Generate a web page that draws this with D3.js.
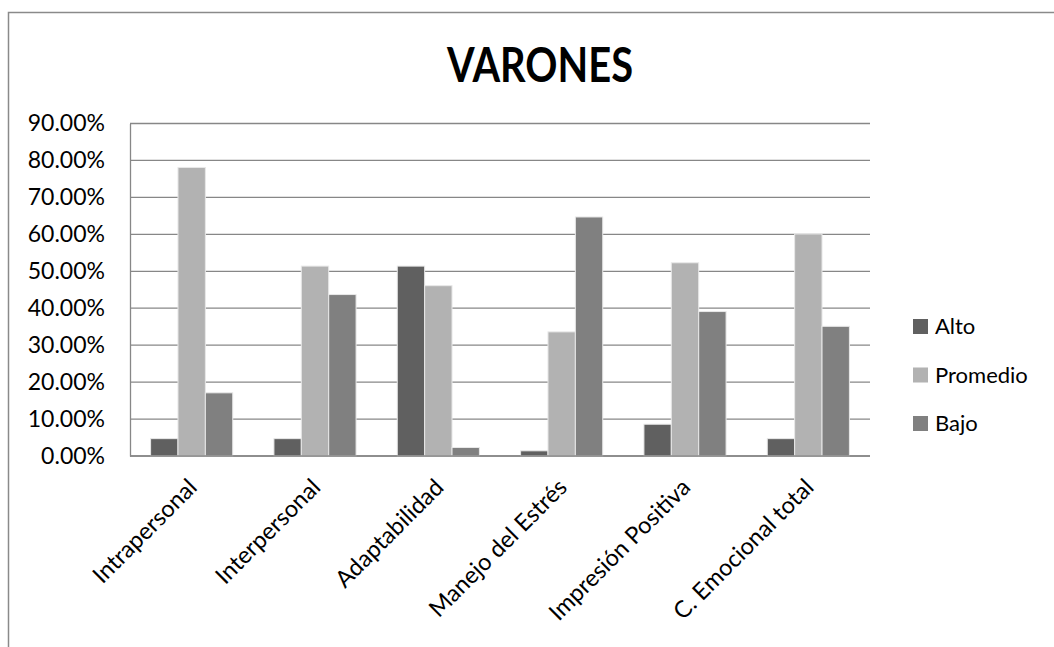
<!DOCTYPE html>
<html>
<head>
<meta charset="utf-8">
<script src="https://cdn.jsdelivr.net/npm/d3@7"></script>
<style>
  body { margin: 0; background: #fff; }
  text { font-family: Lato, "Open Sans", sans-serif; fill: #000; }
</style>
</head>
<body>
<div class="chart-container"></div>
<script>
const width = 1054, height = 647;

// data
var categories = ["Intrapersonal", "Interpersonal", "Adaptabilidad", "Manejo del Estrés", "Impresión Positiva", "C. Emocional total"];
var series = ["Alto", "Promedio", "Bajo"];
var alto = [4.7, 4.7, 51.4, 1.4, 8.6, 4.7];
var promedio = [78.1, 51.4, 46.1, 33.6, 52.3, 60.1];
var bajo = [17.1, 43.7, 2.3, 64.7, 39.1, 35.1];
var yTicks = [0, 10, 20, 30, 40, 50, 60, 70, 80, 90];
var colors = ["#606060", "#b2b2b2", "#808080"];

var values = [alto, promedio, bajo];

var svg = d3.select(".chart-container")
    .append("svg")
    .attr("width", width)
    .attr("height", height);

// outer chart frame (runs off the right and bottom edge)
svg.append("rect")
    .attr("x", 8.5).attr("y", 12.5)
    .attr("width", 1100).attr("height", 700)
    .attr("fill", "none")
    .attr("stroke", "#8a8a8a")
    .attr("stroke-width", 1.5);

var plotLeft = 130, plotRight = 870, plotTop = 123.5, plotBottom = 456;

var x0 = d3.scaleBand().domain(categories).range([plotLeft, plotRight]);
var x1 = d3.scaleBand().domain(series)
    .range([x0.bandwidth() * 0.167, x0.bandwidth() * 0.833]);
var y = d3.scaleLinear().domain([0, 90]).range([plotBottom, plotTop]);

// gridlines
svg.append("g")
    .selectAll("line")
    .data(yTicks)
    .enter()
    .append("line")
    .attr("x1", plotLeft).attr("x2", plotRight)
    .attr("y1", d => y(d)).attr("y2", d => y(d))
    .attr("stroke", "#878787")
    .attr("stroke-width", 1.3);

// y axis
var yAxis = svg.append("g")
    .attr("transform", "translate(" + plotLeft + ",0)")
    .call(d3.axisLeft(y).tickValues(yTicks).tickSize(0).tickPadding(25)
        .tickFormat(d => d.toFixed(2) + "%"));
yAxis.select(".domain").attr("stroke", "#878787").attr("stroke-width", 1.3);
yAxis.selectAll("text")
    .style("font-family", "Lato, 'Open Sans', sans-serif")
    .style("font-size", "23px")
    .attr("fill", "#000");

// bars
var groups = svg.append("g")
    .selectAll("g")
    .data(categories)
    .enter()
    .append("g")
    .attr("transform", d => "translate(" + x0(d) + ",0)");

groups.selectAll("rect")
    .data((d, i) => series.map((s, j) => ({ s: s, v: values[j][i], c: colors[j] })))
    .enter()
    .append("rect")
    .attr("x", d => x1(d.s))
    .attr("y", d => y(d.v))
    .attr("width", x1.bandwidth())
    .attr("height", d => plotBottom - y(d.v))
    .attr("fill", d => d.c)
    .attr("stroke", "#e8e8e8")
    .attr("stroke-width", 1);

// x baseline
svg.append("line")
    .attr("x1", plotLeft).attr("x2", plotRight)
    .attr("y1", plotBottom).attr("y2", plotBottom)
    .attr("stroke", "#878787")
    .attr("stroke-width", 1.5);

// category labels
svg.append("g")
    .selectAll("text")
    .data(categories)
    .enter()
    .append("text")
    .attr("transform", d => "translate(" + (x0(d) + x0.bandwidth() / 2 + 1) + "," + (plotBottom + 27) + ") rotate(-45)")
    .attr("text-anchor", "end")
    .attr("dy", "0.35em")
    .style("font-size", "23.5px")
    .text(d => d);

// title
svg.append("text")
    .attr("x", 540).attr("y", 82)
    .attr("text-anchor", "middle")
    .attr("textLength", 186)
    .attr("lengthAdjust", "spacingAndGlyphs")
    .style("font-size", "48px")
    .style("font-weight", "bold")
    .text("VARONES");

// legend
var legend = svg.append("g")
    .selectAll("g")
    .data(series)
    .enter()
    .append("g")
    .attr("transform", (d, i) => "translate(913," + (319 + i * 48.5) + ")");
legend.append("rect")
    .attr("width", 15).attr("height", 15)
    .attr("fill", (d, i) => colors[i]);
legend.append("text")
    .attr("x", 22).attr("y", 15)
    .style("font-size", "22px")
    .text(d => d);
</script>
</body>
</html>
